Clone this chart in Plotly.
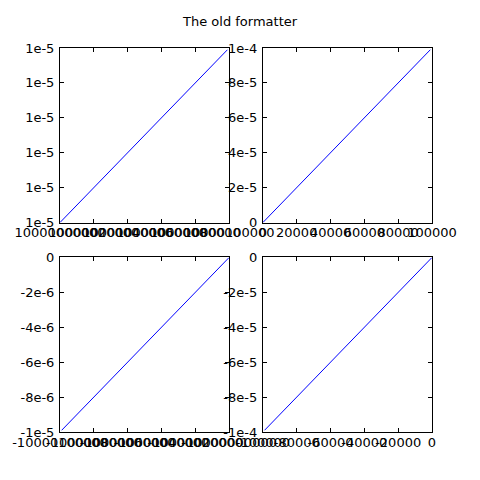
import plotly.graph_objects as go

# Endpoints of the four lines (x = 0..0.99 scaled as in the original demo)
x_top_left = [10000000000, 10000099000]
y_top_left = [1e-5, 1e-5 + 0.99e-10]
x_top_right = [0, 99000]
y_top_right = [0, 0.99e-4]
x_bot_left = [-10000099000, -10000000000]
y_bot_left = [-0.99e-5, 0]
x_bot_right = [-99000, 0]
y_bot_right = [-0.99e-4, 0]

# Tick values and the labels the old formatter produced
xt_top_left = [10000000000, 10000020000, 10000040000, 10000060000, 10000080000, 10000100000]
xl_top_left = ['10000000000', '10000020000', '10000040000', '10000060000', '10000080000', '10000100000']
yt_top_left = [1e-5, 1e-5 + 2e-11, 1e-5 + 4e-11, 1e-5 + 6e-11, 1e-5 + 8e-11, 1e-5 + 1e-10]
yl_top_left = ['1e-5'] * 6

xt_top_right = [0, 20000, 40000, 60000, 80000, 100000]
xl_top_right = ['0', '20000', '40000', '60000', '80000', '100000']
yt_top_right = [0, 2e-5, 4e-5, 6e-5, 8e-5, 1e-4]
yl_top_right = ['0', '2e-5', '4e-5', '6e-5', '8e-5', '1e-4']

xt_bot_left = [-10000100000, -10000080000, -10000060000, -10000040000, -10000020000, -10000000000]
xl_bot_left = ['-10000100000', '-10000080000', '-10000060000', '-10000040000', '-10000020000', '-10000000000']
yt_bot_left = [-1e-5, -8e-6, -6e-6, -4e-6, -2e-6, 0]
yl_bot_left = ['-1e-5', '-8e-6', '-6e-6', '-4e-6', '-2e-6', '0']

xt_bot_right = [-100000, -80000, -60000, -40000, -20000, 0]
xl_bot_right = ['-100000', '-80000', '-60000', '-40000', '-20000', '0']
yt_bot_right = [-1e-4, -8e-5, -6e-5, -4e-5, -2e-5, 0]
yl_bot_right = ['-1e-4', '-8e-5', '-6e-5', '-4e-5', '-2e-5', '0']

panels = [
    (x_top_left, y_top_left, xt_top_left, xl_top_left, yt_top_left, yl_top_left),
    (x_top_right, y_top_right, xt_top_right, xl_top_right, yt_top_right, yl_top_right),
    (x_bot_left, y_bot_left, xt_bot_left, xl_bot_left, yt_bot_left, yl_bot_left),
    (x_bot_right, y_bot_right, xt_bot_right, xl_bot_right, yt_bot_right, yl_bot_right),
]

# matplotlib classic subplot geometry (left .125, right .9, bottom .1, top .9, spaces .2)
x_domains = [[0.125, 0.4773], [0.5477, 0.9]]
y_domains = [[0.5364, 0.9], [0.1, 0.4636]]

fig = go.Figure()
layout = {}
for i, (xs, ys, xt, xl, yt, yl) in enumerate(panels):
    n = '' if i == 0 else str(i + 1)
    fig.add_trace(go.Scatter(
        x=xs, y=ys, mode='lines',
        line=dict(color='#0000ff', width=1),
        xaxis='x' + n, yaxis='y' + n,
        showlegend=False,
    ))
    axis_style = dict(
        showline=True, linecolor='black', linewidth=1, mirror='allticks',
        ticks='inside', ticklen=4, tickcolor='black', tickwidth=1,
        showgrid=False, zeroline=False, tickfont=dict(size=13, color='black'),
        tickangle=0, automargin=False,
    )
    layout['xaxis' + n] = dict(
        axis_style, domain=x_domains[i % 2], anchor='y' + n, ticklabelstandoff=-2,
        range=[xt[0], xt[-1]], tickmode='array', tickvals=xt, ticktext=xl,
    )
    layout['yaxis' + n] = dict(
        axis_style, domain=y_domains[i // 2], anchor='x' + n, ticklabelstandoff=2,
        range=[yt[0], yt[-1]], tickmode='array', tickvals=yt, ticktext=yl,
    )

fig.update_layout(**layout)
fig.add_annotation(
    text='The old formatter', x=0.5, y=0.975, xref='paper', yref='paper',
    xanchor='center', yanchor='top', showarrow=False,
    font=dict(size=13, color='black'),
)
fig.update_layout(
    width=480, height=480,
    margin=dict(l=0, r=0, t=0, b=0),
    paper_bgcolor='white', plot_bgcolor='white',
    font=dict(family='DejaVu Sans', color='black'),
)
# drop the browser's default 8px body margin so the figure fills the window
fig.write_html("out.html", config={'displayModeBar': False},
               post_script="document.body.style.margin='0';")
